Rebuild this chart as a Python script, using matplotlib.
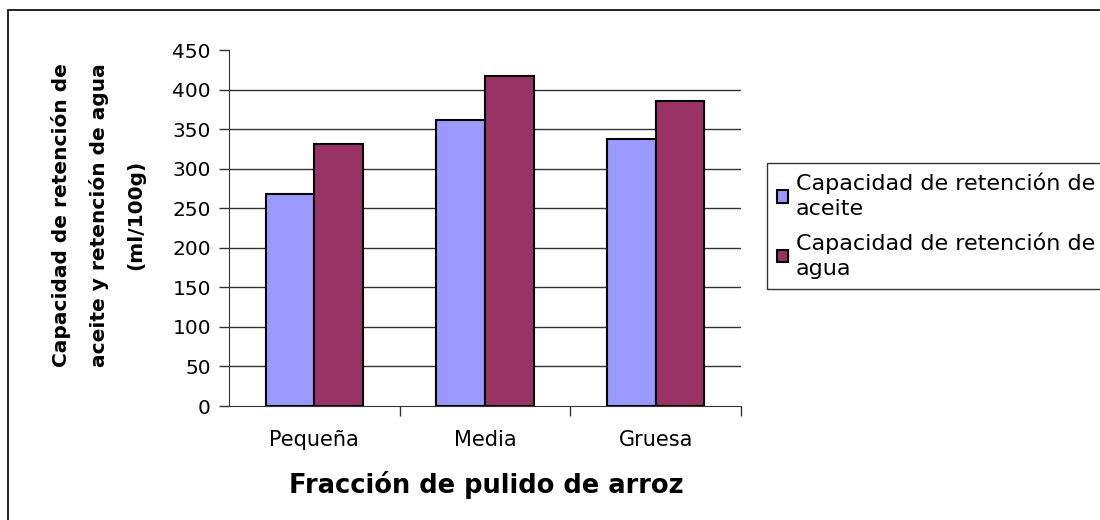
import numpy as np
import matplotlib.pyplot as plt
from matplotlib.patches import Rectangle

plt.rcParams['font.family'] = ['DejaVu Sans']

categories = ['Pequeña', 'Media', 'Gruesa']
aceite = [268, 361, 338]
agua = [331, 417, 386]
series_names = ['Capacidad de retención de\naceite', 'Capacidad de retención de\nagua']
yticks = [0, 50, 100, 150, 200, 250, 300, 350, 400, 450]

fig = plt.figure(figsize = (11, 5.2), dpi = 100)
ax = fig.add_axes([229 / 1100, 1 - 406 / 520, 512 / 1100, 356 / 520])

x = np.arange(len(categories))
w = 1 / 3.5
b1 = ax.bar(x - w / 2, aceite, w, color = '#9999FF', edgecolor = 'black', lw = 1.5, zorder = 3, label = series_names[0])
b2 = ax.bar(x + w / 2, agua, w, color = '#993366', edgecolor = 'black', lw = 1.5, zorder = 3, label = series_names[1])

ax.set_xlim(-0.5, 2.5)
ax.set_ylim(0, 450)
ax.set_yticks(yticks)
ax.tick_params(axis = 'y', labelsize = 14.5, length = 7, width = 1, pad = 6, color = '#333333')
ax.set_xticks(x)
ax.set_xticklabels(categories)
ax.tick_params(axis = 'x', which = 'major', labelsize = 15, length = 0, pad = 17)
ax.set_xticks([0.5, 1.5, 2.5], minor = True)
ax.tick_params(axis = 'x', which = 'minor', length = 7, width = 1, color = '#333333')

ax.yaxis.grid(True, color = '#333333', lw = 1)
ax.set_axisbelow(True)
for i, gl in enumerate(ax.get_ygridlines()):
    if i == 0 or i == len(yticks) - 1:
        gl.set_visible(False)

for s in ['top', 'right']:
    ax.spines[s].set_visible(False)
ax.spines['left'].set_color('#333333')
ax.spines['bottom'].set_color('#333333')

fig.text(98 / 1100, 1 - 215 / 520, 'Capacidad de retención de\naceite y retención de agua\n(ml/100g)',
         rotation = 90, ha = 'center', va = 'center', multialignment = 'center',
         fontsize = 14.5, fontweight = 'bold', linespacing = 2.15)
fig.text(486 / 1100, 1 - 485 / 520, 'Fracción de pulido de arroz', ha = 'center', va = 'center',
         fontsize = 18.5, fontweight = 'bold')

leg = fig.legend(handles = [b1, b2], loc = 'upper left', bbox_to_anchor = (767 / 1100, 1 - 163 / 520),
                 fontsize = 16, frameon = True, fancybox = False, edgecolor = 'black',
                 handlelength = 0.5, handleheight = 0.5, handletextpad = 0.35, borderpad = 0.45,
                 labelspacing = 0.6, borderaxespad = 0)
leg.get_frame().set_linewidth(1)
for t in leg.get_texts():
    t.set_linespacing(1.3)
for h in leg.legend_handles:
    h.set_linewidth(1.5)

# chart area border (clipped at right and bottom)
fig.patches.append(Rectangle((8 / 1100, -0.2), 1.2, 1.2 - 10 / 520, transform = fig.transFigure,
                             fill = False, edgecolor = 'black', lw = 1.2))

fig.savefig('out.png', dpi = 100)
